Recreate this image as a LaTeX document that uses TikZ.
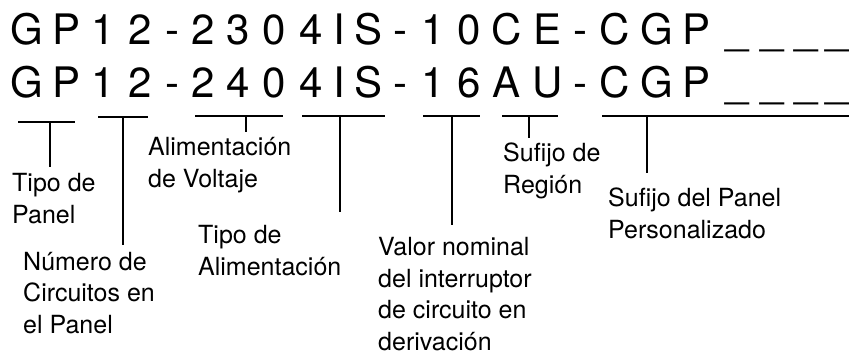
\documentclass[tikz,border=0pt]{standalone}
\usepackage{fontspec}
\setmainfont{TeX Gyre Heros}
\tikzset{
  code/.style={font=\fontsize{42}{42}\selectfont,inner sep=0pt,anchor=base},
  lbl/.style={font=\fontsize{25}{31.5}\selectfont,align=left,inner sep=0pt,anchor=base west},
  bar/.style={line width=2pt},
}
\begin{document}
\begin{tikzpicture}[x=1pt,y=-1pt]
\useasboundingbox (0,0) rectangle (849,354);
% the two part numbers, one glyph per node
\foreach \x/\c/\d [count=\i] in {27/G/G,67/P/P,103/1/1,140/2/2,172/-/-,203/2/2,238/3/4,274/0/0,
    311/4/4,339/I/I,369/S/S,400/-/-,433/1/1,469/0/6,507/C/A,548/E/U,580/-/-,615/C/C,657/G/G,696/P/P,
    737/\_/\_,772/\_/\_,806/\_/\_,837/\_/\_}{
  \node[code] (a\i) at (\x,44.5) {\c};
  \node[code] (b\i) at (\x,97.5) {\d};
}
% field labels (anchored on the last line)
\node[lbl] (tipo) at (12,223) {Tipo de\\Panel};
\node[lbl] (numero) at (23,333) {Número de\\Circuitos en\\el Panel};
\node[lbl] (voltaje) at (148,187) {Alimentación\\de Voltaje};
\node[lbl] (alim) at (198,275) {Tipo de\\Alimentación};
\node[lbl] (valor) at (378,350) {Valor nominal\\del interruptor\\de circuito en\\derivación};
\node[lbl] (region) at (503,193) {Sufijo de\\Región};
\node[lbl] (sufijo) at (608,238) {Sufijo del Panel\\Personalizado};
% brackets: bar ends, stem top, stem foot
\foreach \i/\l/\r/\m/\y/\f in {1/18/75/50/122/167,2/98/148/123/117/245,3/195/283/246/116/132,
    4/302/385/340/116/212,5/423/480/452/116/225,6/502/558/529/116/138,7/602/849/647/116/173}{
  \coordinate (l\i) at (\l,\y);
  \coordinate (r\i) at (\r,\y);
  \coordinate (m\i) at (\m,\y);
  \coordinate (f\i) at (\m,\f);
  \draw[bar] (l\i) -- (r\i) (m\i) -- (f\i);
}
\end{tikzpicture}
\end{document}
